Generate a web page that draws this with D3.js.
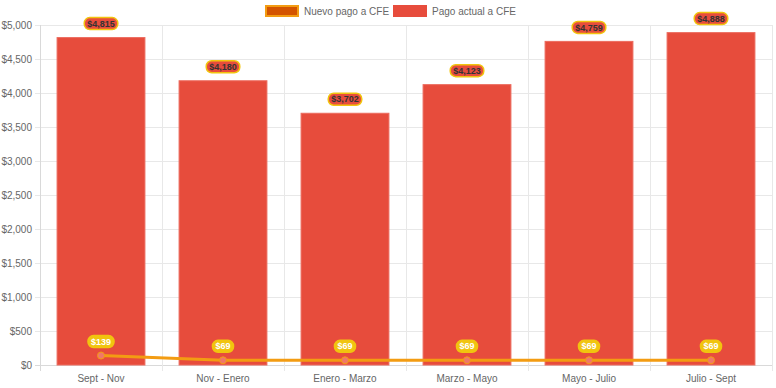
<!DOCTYPE html>
<html>
<head>
<meta charset="utf-8">
<script src="https://cdn.jsdelivr.net/npm/d3@7"></script>
<style>
  body { margin: 0; background: #fff; }
  svg { display: block; font-family: "Liberation Sans", Arial, sans-serif; }
</style>
</head>
<body>
<div id="chart"></div>
<script>
// periods shown on the x axis
const periods = ["Sept - Nov", "Nov - Enero", "Enero - Marzo", "Marzo - Mayo", "Mayo - Julio", "Julio - Sept"];
// current CFE payment (bars)
const pagoActual = [4815, 4180, 3702, 4123, 4759, 4888];
// new CFE payment (line)
const nuevoPago = [139, 69, 69, 69, 69, 69];
const yTicks = [0, 500, 1000, 1500, 2000, 2500, 3000, 3500, 4000, 4500, 5000];
const legendItems = ["Nuevo pago a CFE", "Pago actual a CFE"];

const W = 776, H = 388;
const margin = {top: 25, right: 4, bottom: 23, left: 40};
const width = W - margin.left - margin.right,
      height = H - margin.top - margin.bottom;

const fmt = d => "$" + d3.format(",")(d);

const svg = d3.select("#chart").append("svg")
  .attr("width", W).attr("height", H);
const g = svg.append("g")
  .attr("transform", "translate(" + margin.left + "," + margin.top + ")");

const x = d3.scaleBand().domain(periods).range([0, width]);
const y = d3.scaleLinear().domain([0, 5000]).range([height, 0]);

// horizontal grid
g.append("g").selectAll("line").data(yTicks).join("line")
  .attr("x1", -5).attr("x2", width)
  .attr("y1", d => Math.round(y(d)) + 0.5).attr("y2", d => Math.round(y(d)) + 0.5)
  .attr("stroke", d => d === 0 ? "#d9d9d9" : "#e8e8e8");

// vertical grid at category boundaries
const bounds = periods.map(p => x(p)).concat([width]);
g.append("g").selectAll("line").data(bounds).join("line")
  .attr("x1", d => Math.round(d) + 0.5).attr("x2", d => Math.round(d) + 0.5)
  .attr("y1", 0).attr("y2", height + 6)
  .attr("stroke", (d, i) => i === 0 ? "#d9d9d9" : "#e8e8e8");

// y labels
g.append("g").selectAll("text").data(yTicks).join("text")
  .attr("x", -8).attr("y", d => y(d)).attr("dy", "0.35em")
  .attr("text-anchor", "end").attr("font-size", 10).attr("fill", "#666")
  .text(fmt);

// x labels
g.append("g").selectAll("text").data(periods).join("text")
  .attr("x", d => x(d) + x.bandwidth() / 2).attr("y", height + 17)
  .attr("text-anchor", "middle").attr("font-size", 10).attr("fill", "#666")
  .text(d => d);

// bars
const barW = x.bandwidth() * 0.72;
g.append("g").selectAll("rect").data(pagoActual).join("rect")
  .attr("x", (d, i) => x(periods[i]) + (x.bandwidth() - barW) / 2)
  .attr("width", barW)
  .attr("y", d => y(d)).attr("height", d => height - y(d))
  .attr("fill", "#e74c3c").attr("stroke", "#ec6b5e").attr("stroke-width", 1);

// line
const line = d3.line()
  .x((d, i) => x(periods[i]) + x.bandwidth() / 2)
  .y(d => y(d));
g.append("path").datum(nuevoPago)
  .attr("fill", "none").attr("stroke", "#f39c12").attr("stroke-width", 3)
  .attr("d", line);
g.append("g").selectAll("circle").data(nuevoPago).join("circle")
  .attr("cx", (d, i) => x(periods[i]) + x.bandwidth() / 2)
  .attr("cy", d => y(d)).attr("r", 3.5)
  .attr("fill", "#f0776a").attr("stroke", "#f39c12").attr("stroke-width", 1);

// data labels
function label(sel, data, opts) {
  const lg = sel.append("g").selectAll("g").data(data).join("g")
    .attr("transform", (d, i) => "translate(" + (x(periods[i]) + x.bandwidth() / 2) + "," + (y(d) - 14) + ")");
  lg.append("text")
    .attr("text-anchor", "middle").attr("dy", "0.35em")
    .attr("font-size", 9).attr("font-weight", "bold").attr("fill", opts.text)
    .text(fmt);
  lg.each(function() {
    const t = d3.select(this).select("text");
    const w = t.node().getComputedTextLength() + 6;
    d3.select(this).insert("rect", "text")
      .attr("x", -w / 2).attr("y", -6).attr("width", w).attr("height", 12)
      .attr("rx", 5.5).attr("fill", opts.fill)
      .attr("stroke", opts.stroke).attr("stroke-width", 1.5);
  });
}
label(g, pagoActual, {fill: "#e74c3c", stroke: "#f1c40f", text: "#333"});
label(g, nuevoPago, {fill: "#f1c40f", stroke: "#f1c40f", text: "#fff"});

// legend
const legend = svg.append("g").attr("transform", "translate(265,5)");
const li = legend.selectAll("g").data(legendItems).join("g")
  .attr("transform", (d, i) => "translate(" + (i === 0 ? 0 : 128) + ",0)");
li.append("rect")
  .attr("x", (d, i) => i === 0 ? 1 : 0).attr("y", (d, i) => i === 0 ? 1 : 0)
  .attr("width", (d, i) => i === 0 ? 32 : 34).attr("height", (d, i) => i === 0 ? 10 : 12)
  .attr("fill", (d, i) => i === 0 ? "#d35400" : "#e74c3c")
  .attr("stroke", (d, i) => i === 0 ? "#f39c12" : "none")
  .attr("stroke-width", 2);
li.append("text")
  .attr("x", 39).attr("y", 6).attr("dy", "0.35em")
  .attr("font-size", 10).attr("fill", "#666")
  .text(d => d);
</script>
</body>
</html>
